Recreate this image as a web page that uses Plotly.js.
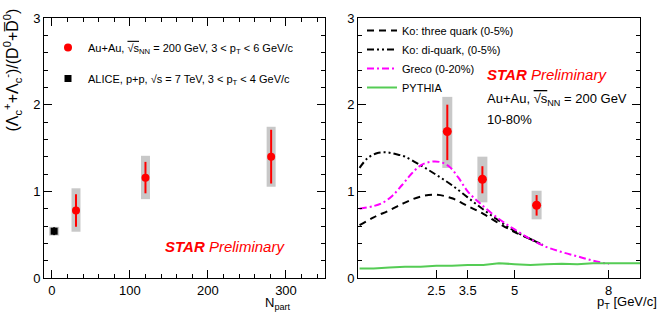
<!DOCTYPE html>
<html>
<head>
<meta charset="utf-8">
<script src="https://cdn.plot.ly/plotly-3.0.1.min.js"></script>
<style>html,body{margin:0;padding:0;background:#fff;}#chart{width:664px;height:316px;}</style>
</head>
<body>
<div id="chart"></div>
<script>
// ---- Left panel: ratio vs Npart ----
const auauNpart = [31, 120, 281];
const auauRatio = [0.78, 1.157, 1.40];
const auauStatUp = [0.185, 0.183, 0.31];
const auauStatDn = [0.19, 0.18, 0.31];
const auauSysUp = [0.255, 0.253, 0.345];
const auauSysDn = [0.246, 0.247, 0.347];

const aliceNpart = [3];
const aliceRatio = [0.54];
const aliceStat = [0.045];
const aliceSysUp = [0.05];
const aliceSysDn = [0.05];

// ---- Right panel: ratio vs pT ----
const ptPts = [2.85, 3.97, 5.70];
const ptRatio = [1.69, 1.14, 0.84];
const ptStatUp = [0.31, 0.15, 0.117];
const ptStatDn = [0.33, 0.163, 0.12];
const ptSysUp = [0.40, 0.26, 0.167];
const ptSysDn = [0.42, 0.267, 0.163];

const koThreePt = [0.05, 0.5, 1.0, 1.5, 2.0, 2.5, 3.0, 3.5, 4.0, 4.5, 5.0, 5.5, 5.9];
const koThreeVal = [0.61, 0.70, 0.78, 0.87, 0.94, 0.96, 0.92, 0.83, 0.74, 0.63, 0.53, 0.45, 0.38];

const koDiPt = [0.05, 0.3, 0.6, 0.9, 1.2, 1.5, 2.0, 2.5, 3.0, 3.5, 4.0, 4.5, 5.0, 5.5, 5.9];
const koDiVal = [1.27, 1.38, 1.44, 1.45, 1.43, 1.40, 1.30, 1.19, 1.07, 0.93, 0.79, 0.66, 0.54, 0.45, 0.38];

const grecoPt = [0.05, 0.5, 0.8, 1.1, 1.4, 1.7, 2.0, 2.3, 2.6, 2.9, 3.2, 3.5, 3.9, 4.5, 5.0, 5.5, 6.0, 6.5, 7.0, 7.5, 8.0];
const grecoVal = [0.80, 0.83, 0.87, 0.95, 1.07, 1.20, 1.30, 1.34, 1.34, 1.29, 1.16, 1.00, 0.86, 0.68, 0.56, 0.45, 0.36, 0.30, 0.25, 0.20, 0.16];

const pythiaPt = [0.05, 0.5, 1, 1.5, 2, 2.5, 3, 3.5, 4, 4.5, 5, 5.5, 6, 6.5, 7, 7.5, 8, 8.5, 9];
const pythiaVal = [0.11, 0.11, 0.12, 0.13, 0.13, 0.14, 0.14, 0.15, 0.15, 0.17, 0.16, 0.15, 0.16, 0.165, 0.16, 0.17, 0.17, 0.17, 0.17];

const leftTicks = [0, 100, 200, 300];
const rightTicks = [2.5, 3.5, 5, 8];
const yTicks = [0, 1, 2, 3];

const FONT = 'Liberation Sans, Arial, Helvetica, sans-serif';
const RED = '#ff0000';
const GREY = '#c8c8c8';

const sysTrace = (x, y, up, dn, w, xa, ya) => ({
  type: 'scatter', mode: 'markers', x: x, y: y, xaxis: xa, yaxis: ya,
  marker: {size: 1, color: 'rgba(0,0,0,0)'}, showlegend: false, hoverinfo: 'skip',
  error_y: {type: 'data', symmetric: false, array: up, arrayminus: dn, thickness: w, width: 0, color: GREY}
});

const traces = [
  sysTrace(aliceNpart, aliceRatio, aliceSysUp, aliceSysDn, 10, 'x', 'y'),
  sysTrace(auauNpart, auauRatio, auauSysUp, auauSysDn, 9, 'x', 'y'),
  sysTrace(ptPts, ptRatio, ptSysUp, ptSysDn, 10, 'x2', 'y2'),
  {
    type: 'scatter', mode: 'markers', x: auauNpart, y: auauRatio, xaxis: 'x', yaxis: 'y',
    name: 'Au+Au, <span style="text-decoration:overline">√s</span><sub>NN</sub> = 200 GeV, 3 &lt; p<sub>T</sub> &lt; 6 GeV/c',
    legend: 'legend', legendgroup: 'a',
    marker: {symbol: 'circle', size: 8, color: RED},
    error_y: {type: 'data', symmetric: false, array: auauStatUp, arrayminus: auauStatDn, thickness: 2, width: 0, color: RED}
  },
  {
    type: 'scatter', mode: 'markers', x: aliceNpart, y: aliceRatio, xaxis: 'x', yaxis: 'y',
    name: 'ALICE, p+p, √s = 7 TeV, 3 &lt; p<sub>T</sub> &lt; 4 GeV/c',
    legend: 'legend', legendgroup: 'b',
    marker: {symbol: 'square', size: 7, color: '#000'},
    error_y: {type: 'data', array: aliceStat, thickness: 2, width: 0, color: '#000'}
  },
  {
    type: 'scatter', mode: 'lines', x: koThreePt, y: koThreeVal, xaxis: 'x2', yaxis: 'y2',
    name: 'Ko: three quark (0-5%)', legend: 'legend2', line: {color: '#000', width: 2, dash: '7px,5px', shape: 'spline'}
  },
  {
    type: 'scatter', mode: 'lines', x: koDiPt, y: koDiVal, xaxis: 'x2', yaxis: 'y2',
    name: 'Ko: di-quark, (0-5%)', legend: 'legend2', line: {color: '#000', width: 2, dash: '7px,3px,2px,3px,2px,3px', shape: 'spline'}
  },
  {
    type: 'scatter', mode: 'lines', x: grecoPt, y: grecoVal, xaxis: 'x2', yaxis: 'y2',
    name: 'Greco (0-20%)', legend: 'legend2', line: {color: '#ff00ff', width: 2, dash: '7px,3px,2px,3px', shape: 'spline'}
  },
  {
    type: 'scatter', mode: 'lines', x: pythiaPt, y: pythiaVal, xaxis: 'x2', yaxis: 'y2',
    name: 'PYTHIA', legend: 'legend2', line: {color: '#55cc55', width: 2}
  },
  {
    type: 'scatter', mode: 'markers', x: ptPts, y: ptRatio, xaxis: 'x2', yaxis: 'y2', showlegend: false,
    marker: {symbol: 'circle', size: 9, color: RED},
    error_y: {type: 'data', symmetric: false, array: ptStatUp, arrayminus: ptStatDn, thickness: 2, width: 0, color: RED}
  }
];

const axisBase = {
  showline: true, linecolor: '#000', linewidth: 1, showgrid: false, zeroline: false,
  ticks: 'inside', tickcolor: '#000', tickfont: {family: FONT, size: 13, color: '#000'}
};

const layout = {
  width: 664, height: 316,
  margin: {l: 0, r: 0, t: 0, b: 0},
  paper_bgcolor: '#fff', plot_bgcolor: '#fff',
  font: {family: FONT, color: '#000'},
  xaxis: Object.assign({}, axisBase, {
    domain: [44/664, 325/664], range: [-10, 350], tickvals: leftTicks, ticktext: leftTicks.map(String),
    ticklen: 8, mirror: 'ticks', anchor: 'y',
    minor: {dtick: 20, tick0: 0, ticks: 'inside', ticklen: 4, tickcolor: '#000', showgrid: false}
  }),
  yaxis: Object.assign({}, axisBase, {
    domain: [1 - 278/316, 1 - 18/316], range: [0, 3], tickvals: yTicks, ticktext: yTicks.map(String),
    ticklen: 8, mirror: 'ticks', anchor: 'x',
    minor: {dtick: 0.2, tick0: 0, ticks: 'inside', ticklen: 4, tickcolor: '#000', showgrid: false}
  }),
  xaxis2: Object.assign({}, axisBase, {
    domain: [358/664, 640/664], range: [0, 9], tickvals: rightTicks, ticktext: rightTicks.map(String),
    ticklen: 8, mirror: true, anchor: 'y2'
  }),
  yaxis2: Object.assign({}, axisBase, {
    domain: [1 - 278/316, 1 - 18/316], range: [0, 3], tickvals: yTicks, ticktext: yTicks.map(String),
    ticklen: 8, mirror: 'ticks', anchor: 'x2',
    minor: {dtick: 0.2, tick0: 0, ticks: 'inside', ticklen: 4, tickcolor: '#000', showgrid: false}
  }),
  legend: {
    x: 48/664, y: 1 - 33/316, xanchor: 'left', yanchor: 'top', bgcolor: 'rgba(0,0,0,0)',
    font: {family: FONT, size: 11, color: '#000'}, traceorder: 'grouped', tracegroupgap: 12, itemwidth: 30
  },
  legend2: {
    x: 362/664, y: 1 - 16/316, xanchor: 'left', yanchor: 'top', bgcolor: 'rgba(0,0,0,0)',
    font: {family: FONT, size: 11, color: '#000'}, itemwidth: 30
  },
  annotations: [
    {xref: 'paper', yref: 'paper', x: 12/664, y: 1 - 7/316, xanchor: 'center', yanchor: 'top', textangle: -90,
     text: '(Λ<sub>c</sub><sup>+</sup>+Λ<sub>c</sub><sup>-</sup>)/(D<sup>0</sup>+D̅<sup>0</sup>)', showarrow: false,
     font: {family: FONT, size: 16, color: '#000'}},
    {xref: 'paper', yref: 'paper', x: 278/664, y: 1 - 303/316, xanchor: 'center', yanchor: 'middle',
     text: 'N<sub>part</sub>', showarrow: false, font: {family: FONT, size: 13, color: '#000'}},
    {xref: 'paper', yref: 'paper', x: 659/664, y: 1 - 302/316, xanchor: 'right', yanchor: 'middle',
     text: 'p<sub>T</sub> [GeV/c]', showarrow: false, font: {family: FONT, size: 13, color: '#000'}},
    {xref: 'paper', yref: 'paper', x: 163/664, y: 1 - 247/316, xanchor: 'left', yanchor: 'middle',
     text: '<b><i>STAR</i></b> <i>Preliminary</i>', showarrow: false, font: {family: FONT, size: 15, color: RED}},
    {xref: 'paper', yref: 'paper', x: 485/664, y: 1 - 75/316, xanchor: 'left', yanchor: 'middle',
     text: '<b><i>STAR</i></b> <i>Preliminary</i>', showarrow: false, font: {family: FONT, size: 15, color: RED}},
    {xref: 'paper', yref: 'paper', x: 485/664, y: 1 - 99/316, xanchor: 'left', yanchor: 'middle',
     text: 'Au+Au, <span style="text-decoration:overline">√s</span><sub>NN</sub> = 200 GeV', showarrow: false,
     font: {family: FONT, size: 13, color: '#000'}},
    {xref: 'paper', yref: 'paper', x: 485/664, y: 1 - 119/316, xanchor: 'left', yanchor: 'middle',
     text: '10-80%', showarrow: false, font: {family: FONT, size: 13, color: '#000'}}
  ]
};

Plotly.newPlot('chart', traces, layout, {staticPlot: true, displayModeBar: false});
</script>
</body>
</html>
